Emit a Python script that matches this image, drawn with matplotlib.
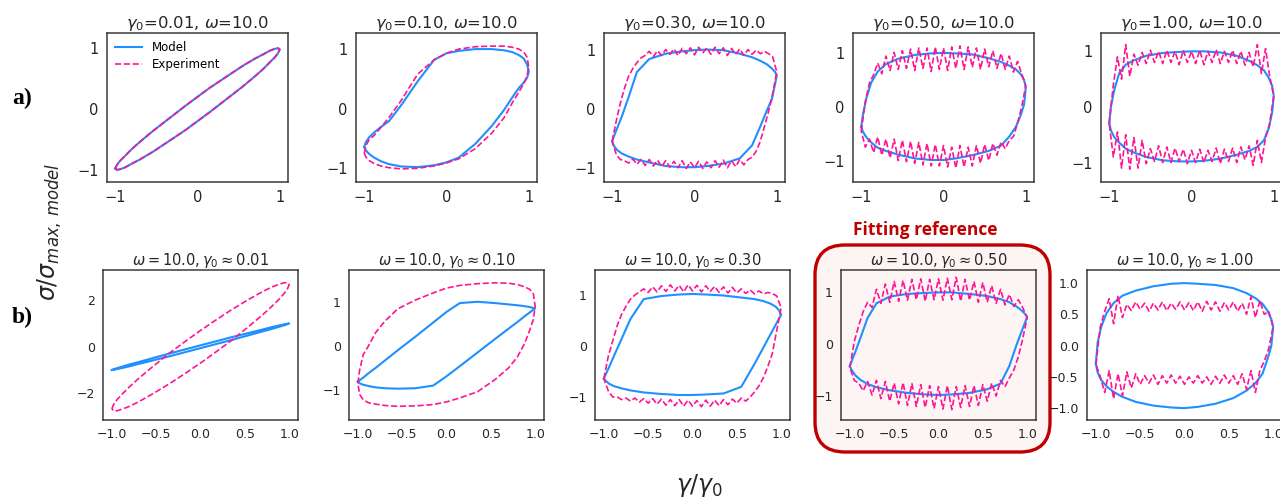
import matplotlib
matplotlib.use("Agg")
import matplotlib.pyplot as plt
from matplotlib.patches import FancyBboxPatch

# sample positions along gamma/gamma0 (smooth loops and noisy loops)
G = [-1.0, -0.98, -0.94, -0.88, -0.8, -0.7, -0.55, -0.35, -0.15, 0.0,
     0.15, 0.35, 0.55, 0.7, 0.8, 0.88, 0.94, 0.98, 1.0]
N = [-1.0, -0.95, -0.9, -0.85, -0.8, -0.75, -0.7, -0.65, -0.6, -0.55, -0.5,
     -0.45, -0.4, -0.35, -0.3, -0.25, -0.2, -0.15, -0.1, -0.05, 0.0, 0.05,
     0.1, 0.15, 0.2, 0.25, 0.3, 0.35, 0.4, 0.45, 0.5, 0.55, 0.6, 0.65, 0.7,
     0.75, 0.8, 0.85, 0.9, 0.95, 1.0]

# ---- row a) : model vs experiment, gamma0 sweep ----
a_titles = ["$\\gamma_0$=0.01, $\\omega$=10.0", "$\\gamma_0$=0.10, $\\omega$=10.0",
            "$\\gamma_0$=0.30, $\\omega$=10.0", "$\\gamma_0$=0.50, $\\omega$=10.0",
            "$\\gamma_0$=1.00, $\\omega$=10.0"]

a1_model_up = [-0.98, -0.92, -0.85, -0.77, -0.66, -0.54, -0.37, -0.16, 0.05, 0.2,
               0.35, 0.53, 0.71, 0.83, 0.90, 0.96, 0.99, 1.0, 0.98]
a1_model_lo = [-0.98, -1.0, -0.99, -0.96, -0.90, -0.83, -0.71, -0.53, -0.35, -0.2,
               -0.05, 0.16, 0.37, 0.54, 0.66, 0.77, 0.85, 0.92, 0.98]
a1_exp_up = [-0.98, -0.92, -0.85, -0.77, -0.66, -0.54, -0.37, -0.16, 0.05, 0.2,
             0.35, 0.53, 0.71, 0.83, 0.90, 0.96, 0.99, 1.0, 0.98]
a1_exp_lo = [-0.98, -1.0, -0.99, -0.96, -0.90, -0.83, -0.71, -0.53, -0.35, -0.2,
             -0.05, 0.16, 0.37, 0.54, 0.66, 0.77, 0.85, 0.92, 0.98]

a2_model_up = [-0.64, -0.56, -0.48, -0.40, -0.31, -0.21, 0.06, 0.46, 0.82, 0.93,
               0.97, 1.0, 1.0, 0.98, 0.95, 0.90, 0.84, 0.74, 0.62]
a2_model_lo = [-0.64, -0.70, -0.76, -0.82, -0.88, -0.93, -0.97, -0.98, -0.95, -0.90,
               -0.82, -0.59, -0.29, -0.02, 0.19, 0.35, 0.44, 0.52, 0.62]
a2_exp_up = [-0.75, -0.62, -0.52, -0.45, -0.32, -0.15, 0.14, 0.58, 0.82, 0.93,
             1.0, 1.04, 1.05, 1.05, 1.03, 1.0, 0.95, 0.86, 0.7]
a2_exp_lo = [-0.75, -0.81, -0.87, -0.92, -0.96, -0.99, -1.01, -1.0, -0.96, -0.91,
             -0.84, -0.67, -0.41, -0.15, 0.1, 0.28, 0.42, 0.55, 0.7]

a3_model_up = [-0.55, -0.47, -0.33, -0.12, 0.2, 0.62, 0.84, 0.93, 0.97, 0.99,
               1.0, 0.99, 0.93, 0.87, 0.81, 0.75, 0.68, 0.62, 0.56]
a3_model_lo = [-0.56, -0.63, -0.70, -0.76, -0.81, -0.86, -0.91, -0.97, -0.99, -0.99,
               -0.97, -0.93, -0.84, -0.62, -0.3, -0.03, 0.16, 0.42, 0.56]
a3_exp_up = [-0.55, -0.2, 0.1, 0.35, 0.55, 0.68, 0.78, 0.86, 0.90, 0.97, 0.88,
             0.98, 0.90, 1.00, 0.92, 1.01, 0.90, 1.02, 0.93, 1.03, 0.91, 1.04,
             0.94, 1.03, 0.92, 1.04, 0.93, 1.03, 0.90, 1.02, 0.92, 1.01, 0.90,
             1.00, 0.92, 0.99, 0.93, 0.97, 0.93, 0.88, 0.62]
a3_exp_lo = [-0.55, -0.78, -0.86, -0.88, -0.92, -0.85, -0.94, -0.86, -0.96, -0.86,
             -0.97, -0.87, -0.98, -0.88, -0.99, -0.89, -1.0, -0.88, -1.01, -0.90,
             -1.0, -0.89, -1.01, -0.90, -1.0, -0.88, -0.99, -0.87, -1.0, -0.88,
             -0.98, -0.86, -0.95, -0.86, -0.82, -0.72, -0.55, -0.3, -0.05, 0.25, 0.62]

a4_model_up = [-0.37, -0.15, 0.15, 0.45, 0.66, 0.8, 0.9, 0.97, 1.0, 1.01,
               1.0, 0.98, 0.91, 0.84, 0.77, 0.70, 0.61, 0.5, 0.36]
a4_model_lo = [-0.37, -0.46, -0.56, -0.66, -0.76, -0.82, -0.89, -0.96, -0.99, -0.99,
               -0.96, -0.9, -0.82, -0.72, -0.55, -0.37, -0.15, 0.05, 0.36]
a4_exp_up = [-0.45, 0.1, 0.45, 0.6, 0.82, 0.62, 0.95, 0.68, 1.02, 0.7, 1.05,
             0.72, 1.08, 0.68, 1.1, 0.72, 1.1, 0.66, 1.12, 0.7, 1.1, 0.68, 1.12,
             0.72, 1.14, 0.7, 1.12, 0.74, 1.1, 0.7, 1.08, 0.75, 1.05, 0.72, 1.0,
             0.7, 0.95, 0.65, 0.85, 0.62, 0.4]
a4_exp_lo = [-0.45, -0.75, -0.6, -0.85, -0.56, -0.9, -0.6, -0.95, -0.6, -1.0,
             -0.62, -1.02, -0.64, -1.05, -0.66, -1.08, -0.68, -1.1, -0.7, -1.1,
             -0.72, -1.12, -0.75, -1.14, -0.72, -1.12, -0.75, -1.1, -0.72, -1.05,
             -0.7, -1.0, -0.68, -0.9, -0.65, -0.78, -0.62, -0.55, -0.3, 0.0, 0.4]

a5_model_up = [-0.29, 0.0, 0.3, 0.6, 0.76, 0.84, 0.92, 0.97, 0.99, 1.0,
               1.0, 0.98, 0.92, 0.83, 0.75, 0.66, 0.52, 0.38, 0.2]
a5_model_lo = [-0.29, -0.42, -0.54, -0.64, -0.75, -0.82, -0.9, -0.96, -0.98, -0.98,
               -0.97, -0.93, -0.86, -0.79, -0.72, -0.6, -0.38, -0.1, 0.2]
a5_exp_up = [-0.3, 0.4, 0.9, 0.5, 1.12, 0.55, 0.95, 0.75, 0.98, 0.78, 1.02,
             0.8, 1.0, 0.78, 1.02, 0.8, 1.0, 0.76, 1.02, 0.8, 1.0, 0.78, 1.02,
             0.76, 1.0, 0.8, 1.03, 0.78, 1.0, 0.8, 1.02, 0.78, 1.0, 0.75, 0.98,
             0.72, 1.12, 0.6, 1.05, 0.55, 0.2]
a5_exp_lo = [-0.3, -0.9, -0.45, -1.1, -0.5, -1.12, -0.55, -1.1, -0.6, -1.02,
             -0.75, -0.98, -0.7, -1.0, -0.72, -1.0, -0.74, -0.98, -0.76, -1.02,
             -0.78, -1.0, -0.76, -1.0, -0.78, -0.98, -0.74, -1.02, -0.76, -0.98,
             -0.74, -1.0, -0.72, -0.95, -0.7, -1.05, -0.6, -1.0, -0.55, -0.3, 0.2]

# ---- row b) : fitted on gamma0=0.5 ----
b_titles = [r"$\omega = 10.0, \gamma_0 \approx 0.01$", r"$\omega = 10.0, \gamma_0 \approx 0.10$",
            r"$\omega = 10.0, \gamma_0 \approx 0.30$", r"$\omega = 10.0, \gamma_0 \approx 0.50$",
            r"$\omega = 10.0, \gamma_0 \approx 1.00$"]

b1_model_up = [-1.0, -0.97, -0.92, -0.85, -0.76, -0.66, -0.50, -0.29, -0.09, 0.06,
               0.21, 0.41, 0.60, 0.74, 0.84, 0.91, 0.96, 0.99, 1.0]
b1_model_lo = [-1.0, -0.99, -0.96, -0.91, -0.84, -0.74, -0.60, -0.41, -0.21, -0.06,
               0.09, 0.29, 0.50, 0.66, 0.76, 0.85, 0.92, 0.97, 1.0]
b1_exp_up = [-2.67, -2.48, -2.27, -2.02, -1.72, -1.37, -0.89, -0.27, 0.29, 0.7,
             1.09, 1.59, 2.05, 2.37, 2.56, 2.68, 2.75, 2.76, 2.67]
b1_exp_lo = [-2.67, -2.76, -2.75, -2.68, -2.56, -2.37, -2.05, -1.59, -1.09, -0.7,
             -0.29, 0.27, 0.89, 1.37, 1.72, 2.02, 2.27, 2.48, 2.67]

b2_model_up = [-0.81, -0.78, -0.72, -0.62, -0.50, -0.34, -0.10, 0.21, 0.53, 0.77,
               0.97, 1.0, 0.97, 0.94, 0.92, 0.90, 0.88, 0.86, 0.85]
b2_model_lo = [-0.81, -0.85, -0.88, -0.91, -0.94, -0.96, -0.97, -0.96, -0.90, -0.69,
               -0.46, -0.15, 0.16, 0.39, 0.54, 0.67, 0.76, 0.82, 0.85]
b2_exp_up = [-0.85, -0.55, -0.2, 0.0, 0.3, 0.55, 0.84, 1.04, 1.2, 1.31,
             1.37, 1.41, 1.43, 1.42, 1.39, 1.34, 1.28, 1.18, 0.9]
b2_exp_lo = [-0.85, -1.1, -1.22, -1.29, -1.32, -1.35, -1.37, -1.36, -1.33, -1.27,
             -1.18, -1.04, -0.76, -0.5, -0.25, 0.05, 0.36, 0.6, 0.9]

b3_model_up = [-0.64, -0.56, -0.41, -0.17, 0.14, 0.53, 0.92, 0.98, 1.01, 1.02,
               1.01, 0.99, 0.95, 0.92, 0.88, 0.83, 0.77, 0.69, 0.61]
b3_model_lo = [-0.64, -0.68, -0.74, -0.79, -0.83, -0.87, -0.91, -0.94, -0.96, -0.96,
               -0.95, -0.93, -0.8, -0.35, -0.03, 0.23, 0.42, 0.55, 0.61]
b3_exp_up = [-0.64, -0.2, 0.1, 0.4, 0.62, 0.78, 0.92, 1.0, 1.06, 1.12, 1.05,
             1.16, 1.06, 1.18, 1.07, 1.2, 1.08, 1.19, 1.06, 1.2, 1.08, 1.19, 1.06,
             1.18, 1.07, 1.17, 1.05, 1.16, 1.04, 1.15, 1.04, 1.12, 1.03, 1.1,
             1.02, 1.08, 1.02, 1.05, 1.03, 0.98, 0.75]
b3_exp_lo = [-0.64, -0.88, -1.0, -1.0, -1.05, -1.02, -1.08, -1.02, -1.1, -1.03,
             -1.12, -1.03, -1.14, -1.04, -1.16, -1.05, -1.17, -1.05, -1.18, -1.06,
             -1.18, -1.07, -1.19, -1.06, -1.18, -1.06, -1.17, -1.05, -1.15, -1.04,
             -1.12, -1.02, -1.08, -1.0, -0.9, -0.78, -0.62, -0.4, -0.15, 0.3, 0.75]

b4_model_up = [-0.43, -0.33, -0.16, 0.12, 0.5, 0.78, 0.91, 0.96, 0.98, 0.99,
               0.99, 0.96, 0.92, 0.86, 0.8, 0.72, 0.64, 0.57, 0.52]
b4_model_lo = [-0.43, -0.5, -0.6, -0.69, -0.77, -0.83, -0.89, -0.94, -0.97, -0.98,
               -0.97, -0.94, -0.87, -0.76, -0.42, -0.02, 0.25, 0.43, 0.52]
b4_exp_up = [-0.45, 0.05, 0.35, 0.62, 0.8, 0.7, 1.05, 0.78, 1.15, 0.8, 1.2,
             0.82, 1.22, 0.84, 1.24, 0.85, 1.25, 0.82, 1.24, 0.85, 1.25, 0.84,
             1.26, 0.85, 1.28, 0.82, 1.24, 0.84, 1.2, 0.8, 1.18, 0.8, 1.12, 0.78,
             1.05, 0.75, 0.95, 0.72, 0.85, 0.7, 0.5]
b4_exp_lo = [-0.45, -0.7, -0.75, -0.9, -0.72, -0.98, -0.7, -1.05, -0.72, -1.1,
             -0.75, -1.15, -0.74, -1.18, -0.76, -1.2, -0.78, -1.22, -0.8, -1.24,
             -0.82, -1.25, -0.8, -1.26, -0.82, -1.22, -0.8, -1.2, -0.8, -1.18,
             -0.78, -1.1, -0.75, -1.0, -0.7, -0.82, -0.65, -0.5, -0.25, 0.1, 0.5]

b5_model_up = [-0.29, 0.05, 0.3, 0.52, 0.68, 0.8, 0.88, 0.95, 0.99, 1.0,
               0.99, 0.97, 0.92, 0.84, 0.76, 0.67, 0.55, 0.42, 0.3]
b5_model_lo = [-0.29, -0.43, -0.55, -0.65, -0.74, -0.82, -0.9, -0.96, -0.99, -1.0,
               -0.98, -0.93, -0.84, -0.72, -0.6, -0.45, -0.2, 0.0, 0.3]
b5_exp_up = [-0.3, 0.3, 0.55, 0.75, 0.35, 0.8, 0.45, 0.66, 0.56, 0.7, 0.58,
             0.68, 0.55, 0.68, 0.57, 0.7, 0.56, 0.68, 0.58, 0.7, 0.57, 0.69, 0.56,
             0.7, 0.55, 0.71, 0.57, 0.7, 0.55, 0.69, 0.57, 0.7, 0.55, 0.68, 0.5,
             0.78, 0.45, 0.72, 0.5, 0.55, 0.3]
b5_exp_lo = [-0.3, -0.5, -0.75, -0.4, -0.85, -0.45, -0.8, -0.42, -0.68, -0.45,
             -0.62, -0.48, -0.6, -0.47, -0.62, -0.48, -0.6, -0.47, -0.6, -0.49,
             -0.62, -0.5, -0.6, -0.48, -0.6, -0.5, -0.62, -0.49, -0.6, -0.47,
             -0.6, -0.48, -0.62, -0.45, -0.7, -0.4, -0.75, -0.4, -0.25, -0.05, 0.3]

a_panels = [
    (G, a1_model_up, a1_model_lo, G, a1_exp_up, a1_exp_lo, (-1.2, 1.25)),
    (G, a2_model_up, a2_model_lo, G, a2_exp_up, a2_exp_lo, (-1.23, 1.27)),
    (G, a3_model_up, a3_model_lo, N, a3_exp_up, a3_exp_lo, (-1.24, 1.28)),
    (G, a4_model_up, a4_model_lo, N, a4_exp_up, a4_exp_lo, (-1.4, 1.38)),
    (G, a5_model_up, a5_model_lo, N, a5_exp_up, a5_exp_lo, (-1.35, 1.33)),
]
b_panels = [
    (G, b1_model_up, b1_model_lo, G, b1_exp_up, b1_exp_lo, (-3.15, 3.3)),
    (G, b2_model_up, b2_model_lo, G, b2_exp_up, b2_exp_lo, (-1.68, 1.72)),
    (G, b3_model_up, b3_model_lo, N, b3_exp_up, b3_exp_lo, (-1.45, 1.49)),
    (G, b4_model_up, b4_model_lo, N, b4_exp_up, b4_exp_lo, (-1.46, 1.42)),
    (G, b5_model_up, b5_model_lo, N, b5_exp_up, b5_exp_lo, (-1.19, 1.21)),
]
b_yticks = [[-2, 0, 2], [-1, 0, 1], [-1, 0, 1], [-1, 0, 1], [-1.0, -0.5, 0.0, 0.5, 1.0]]

BLUE = "#1e90ff"
PINK = "#ff1493"
SPINE = "#3a3a3a"
TEXT = "#262626"


def closed_loop(grid, upper, lower):
    # go out along the upper branch, come back along the lower one
    x = list(grid) + list(grid[::-1])
    y = list(upper) + list(lower[::-1])
    return x, y


def style_axes(ax, size):
    for s in ax.spines.values():
        s.set_color(SPINE)
        s.set_linewidth(1.1)
    ax.tick_params(length=0, pad=6, labelsize=size, colors=TEXT)


W, H = 1280, 498
fig = plt.figure(figsize=(W / 100, H / 100), dpi=100)

# pixel boxes of the axes (left edges; rows share top/height)
a_left = [107, 356, 604, 853, 1101]
b_left = [103, 349, 595, 841, 1087]

# highlight box behind the fitting reference panel
box = FancyBboxPatch((815 / 100, (H - 452) / 100), 235 / 100, 207 / 100,
                     boxstyle="round,pad=0,rounding_size=0.3",
                     transform=fig.dpi_scale_trans, facecolor="#fdf4f4",
                     edgecolor="#c00000", linewidth=2.4, zorder=-1)
fig.patches.append(box)

for i, (gm, mu, ml, ge, eu, el, ylim) in enumerate(a_panels):
    ax = fig.add_axes([a_left[i] / W, 1 - 182 / H, 181 / W, 149 / H])
    mx, my = closed_loop(gm, mu, ml)
    ex, ey = closed_loop(ge, eu, el)
    ax.plot(mx, my, color=BLUE, lw=1.5, label="Model")
    ax.plot(ex, ey, color=PINK, lw=1.2, ls="--", label="Experiment")
    ax.set_xlim(-1.1, 1.1)
    ax.set_ylim(*ylim)
    ax.set_xticks([-1, 0, 1])
    ax.set_yticks([-1, 0, 1])
    ax.set_title(a_titles[i], fontsize=11.8, color=TEXT, pad=3)
    style_axes(ax, 10.5)
    if i == 0:
        ax.legend(loc="upper left", frameon=False, fontsize=8.5,
                  handlelength=2.3, borderaxespad=0.3, labelspacing=0.3)

for i, (gm, mu, ml, ge, eu, el, ylim) in enumerate(b_panels):
    ax = fig.add_axes([b_left[i] / W, 1 - 420 / H, 195 / W, 150 / H])
    mx, my = closed_loop(gm, mu, ml)
    ex, ey = closed_loop(ge, eu, el)
    ax.plot(mx, my, color=BLUE, lw=1.5)
    ax.plot(ex, ey, color=PINK, lw=1.2, ls="--")
    ax.set_xlim(-1.1, 1.1)
    ax.set_ylim(*ylim)
    ax.set_xticks([-1.0, -0.5, 0.0, 0.5, 1.0])
    ax.set_xticklabels(["\u22121.0", "\u22120.5", "0.0", "0.5", "1.0"])
    ax.set_yticks(b_yticks[i])
    if i == 4:
        ax.set_yticklabels(["\u22121.0", "\u22120.5", "0.0", "0.5", "1.0"])
    ax.set_title(b_titles[i], fontsize=10.5, color=TEXT, pad=3)
    style_axes(ax, 9)
    if i == 3:
        ax.set_facecolor("none")

# panel letters and shared labels
fig.text(22 / W, 1 - 98 / H, "a)", family="Liberation Serif", weight="bold",
         fontsize=17, ha="center", va="center", color="black")
fig.text(22 / W, 1 - 317 / H, "b)", family="Liberation Serif", weight="bold",
         fontsize=17, ha="center", va="center", color="black")
fig.text(50 / W, 1 - 232 / H, r"$\sigma/\sigma_{max,\, model}$", rotation=90,
         fontsize=17, ha="center", va="center", color=TEXT)
fig.text(700 / W, 1 - 485 / H, r"$\gamma/\gamma_0$", fontsize=17,
         ha="center", va="center", color=TEXT)
fig.text(925 / W, 1 - 230 / H, "Fitting reference", family="Open Sans",
         weight="bold", fontsize=12.5, ha="center", va="center", color="#c00000")

fig.savefig("out.png", dpi=100)
